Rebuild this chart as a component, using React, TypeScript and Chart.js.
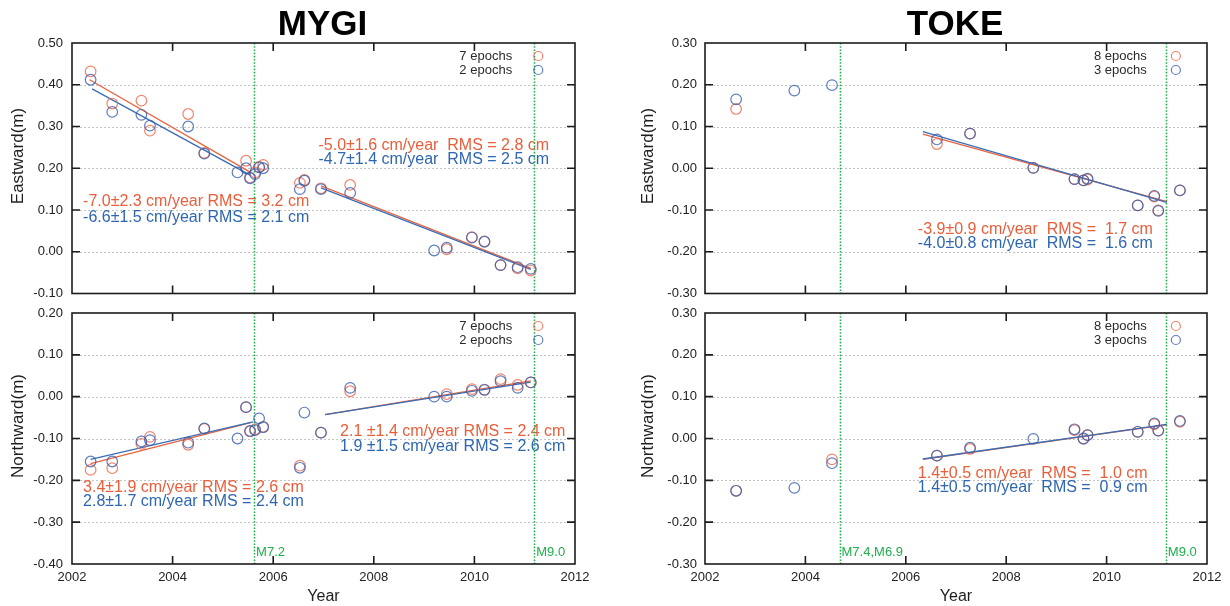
import React, { useEffect, useRef } from "react";
import { Chart, registerables } from "chart.js";

Chart.register(...registerables);

const FONT = "'Liberation Sans', Arial, Helvetica, sans-serif";

// ---------- data ----------
const xTickYears = [2002, 2004, 2006, 2008, 2010, 2012];

// MYGI eastward
const mygiEastOrangeYear = [2002.37, 2002.8, 2003.38, 2003.55, 2004.31, 2004.63, 2005.46, 2005.54, 2005.64, 2005.72, 2005.8, 2006.53, 2006.62, 2006.95, 2007.53, 2009.45, 2009.95, 2010.2, 2010.52, 2010.86, 2011.12];
const mygiEastOrange = [0.432, 0.355, 0.362, 0.29, 0.33, 0.237, 0.218, 0.178, 0.19, 0.203, 0.208, 0.165, 0.172, 0.152, 0.16, 0.006, 0.035, 0.025, -0.032, -0.04, -0.045];
const mygiBlueYear = [2002.37, 2002.8, 2003.38, 2003.55, 2004.31, 2004.63, 2005.29, 2005.46, 2005.54, 2005.64, 2005.72, 2005.8, 2006.53, 2006.62, 2006.95, 2007.53, 2009.2, 2009.45, 2009.95, 2010.2, 2010.52, 2010.86, 2011.12];
const mygiEastBlue = [0.412, 0.335, 0.328, 0.302, 0.3, 0.235, 0.19, 0.2, 0.176, 0.186, 0.202, 0.2, 0.15, 0.17, 0.15, 0.141, 0.003, 0.01, 0.034, 0.024, -0.032, -0.037, -0.041];
const mygiEastOrangeFits = [[[2002.35, 0.412], [2005.55, 0.19]], [[2006.95, 0.158], [2011.12, -0.04]]];
const mygiEastBlueFits = [[[2002.4, 0.39], [2005.55, 0.183]], [[2006.95, 0.153], [2011.12, -0.042]]];

// MYGI northward
const mygiNorthOrangeYear = [2002.37, 2002.8, 2003.38, 2003.55, 2004.31, 2004.63, 2005.46, 2005.54, 2005.64, 2005.8, 2006.53, 2006.95, 2007.53, 2009.45, 2009.95, 2010.2, 2010.52, 2010.86, 2011.12];
const mygiNorthOrange = [-0.175, -0.171, -0.113, -0.096, -0.115, -0.077, -0.025, -0.083, -0.078, -0.072, -0.165, -0.086, 0.013, 0.006, 0.018, 0.017, 0.042, 0.028, 0.034];
const mygiNorthBlue = [-0.155, -0.155, -0.107, -0.104, -0.11, -0.076, -0.1, -0.025, -0.082, -0.08, -0.052, -0.073, -0.17, -0.038, -0.086, 0.021, 0.0, 0.0, 0.014, 0.016, 0.037, 0.021, 0.034];
const mygiNorthOrangeFits = [[[2002.37, -0.16], [2005.55, -0.062]], [[2007.03, -0.043], [2011.12, 0.038]]];
const mygiNorthBlueFits = [[[2002.37, -0.15], [2005.6, -0.06]], [[2007.03, -0.043], [2011.12, 0.035]]];

// TOKE eastward
const tokeOrangeYearEast = [2002.62, 2006.62, 2007.28, 2008.54, 2009.36, 2009.54, 2009.62, 2010.62, 2010.95, 2011.03, 2011.46];
const tokeEastOrange = [0.142, 0.058, 0.083, 0.001, -0.026, -0.029, -0.027, -0.089, -0.068, -0.101, -0.053];
const tokeBlueYear = [2002.62, 2003.78, 2004.53, 2006.62, 2007.28, 2008.54, 2009.36, 2009.54, 2009.62, 2010.62, 2010.95, 2011.03, 2011.46];
const tokeEastBlue = [0.165, 0.186, 0.199, 0.069, 0.083, 0.001, -0.026, -0.029, -0.025, -0.089, -0.066, -0.102, -0.053];
const tokeEastOrangeFits = [[[2006.34, 0.082], [2011.2, -0.08]]];
const tokeEastBlueFits = [[[2006.34, 0.088], [2011.2, -0.082]]];

// TOKE northward
const tokeOrangeYearNorth = [2002.62, 2004.53, 2006.62, 2007.28, 2009.36, 2009.54, 2009.62, 2010.62, 2010.95, 2011.03, 2011.46];
const tokeNorthOrange = [-0.125, -0.05, -0.041, -0.025, 0.02, -0.001, 0.008, 0.016, 0.034, 0.019, 0.04];
const tokeNorthBlue = [-0.125, -0.118, -0.059, -0.041, -0.022, -0.001, 0.022, 0.0, 0.008, 0.016, 0.036, 0.019, 0.042];
const tokeNorthOrangeFits = [[[2006.34, -0.05], [2011.2, 0.033]]];
const tokeNorthBlueFits = [[[2006.34, -0.049], [2011.2, 0.034]]];

// earthquakes
const mygiQuakes = [2005.62, 2011.19];
const mygiQuakeLabels = ["M7.2", "M9.0"];
const tokeQuakes = [2004.68, 2011.18];
const tokeQuakeLabels = ["M7.4,M6.9", "M9.0"];

// ---------- styles ----------
const ORANGE_TXT = "#e95e3b";
const BLUE_TXT = "#2f66b0";
const ORANGE_PT = "rgba(238,110,82,0.85)";
const BLUE_PT = "rgba(52,92,172,0.8)";
const ORANGE_LINE = "#e8633f";
const BLUE_LINE = "#3a6db5";
const GREEN = "#1fae4c";

type Note = { text: string; x: number; y: number; color: string };
type PanelCfg = {
  left: number; top: number; width: number; height: number;
  padTop: number; padRight: number; padBottom: number;
  yAxisWidth: number; yTickPad: number; yTitleX: number;
  yMin: number; yMax: number; yTitle: string;
  showX: boolean; title?: string;
  orangeX: number[]; orangeY: number[]; blueX: number[]; blueY: number[];
  orangeFits: number[][][]; blueFits: number[][][];
  notes: Note[]; quakes: number[]; quakeLabels: string[] | null;
  legend: [string, string]; legendTextX: number; legendDotX: number;
};

const zip = (xs: number[], ys: number[]) => xs.map((x, i) => ({ x, y: ys[i] }));

function decorPlugin(cfg: PanelCfg) {
  return {
    id: "decor",
    beforeDatasetsDraw(chart: any) {
      const { ctx, chartArea: a, scales } = chart;
      const x = scales.x, y = scales.y;
      ctx.save();
      // dotted horizontal grid
      ctx.strokeStyle = "#c4c4c4";
      ctx.lineWidth = 1;
      ctx.setLineDash([2, 2]);
      for (const t of y.ticks) {
        const py = Math.round(y.getPixelForValue(t.value)) + 0.5;
        if (py <= a.top + 2 || py >= a.bottom - 2) continue;
        ctx.beginPath();
        ctx.moveTo(a.left, py);
        ctx.lineTo(a.right, py);
        ctx.stroke();
      }
      ctx.setLineDash([]);
      // notes
      ctx.font = `16px ${FONT}`;
      ctx.textAlign = "left";
      ctx.textBaseline = "middle";
      for (const n of cfg.notes) {
        ctx.fillStyle = n.color;
        ctx.fillText(n.text, x.getPixelForValue(n.x), y.getPixelForValue(n.y));
      }
      // quake lines
      ctx.strokeStyle = GREEN;
      ctx.lineWidth = 1.6;
      ctx.setLineDash([1.6, 1.6]);
      for (const q of cfg.quakes) {
        const px = Math.round(x.getPixelForValue(q)) + 0.5;
        ctx.beginPath();
        ctx.moveTo(px, a.top);
        ctx.lineTo(px, a.bottom);
        ctx.stroke();
      }
      ctx.restore();
    },
    afterDatasetsDraw(chart: any) {
      const { ctx, chartArea: a, scales } = chart;
      const x = scales.x, y = scales.y;
      ctx.save();
      ctx.strokeStyle = "#1c1c1c";
      ctx.lineWidth = 1.6;
      ctx.strokeRect(a.left, a.top, a.right - a.left, a.bottom - a.top);
      const TL = 8;
      ctx.beginPath();
      for (const yr of xTickYears) {
        const px = x.getPixelForValue(yr);
        if (px <= a.left + 1 || px >= a.right - 1) continue;
        ctx.moveTo(px, a.bottom); ctx.lineTo(px, a.bottom - TL);
        ctx.moveTo(px, a.top); ctx.lineTo(px, a.top + TL);
      }
      for (const t of y.ticks) {
        const py = y.getPixelForValue(t.value);
        if (py <= a.top + 1 || py >= a.bottom - 1) continue;
        ctx.moveTo(a.left, py); ctx.lineTo(a.left + TL, py);
        ctx.moveTo(a.right, py); ctx.lineTo(a.right - TL, py);
      }
      ctx.stroke();
      // legend
      ctx.font = `13px ${FONT}`;
      ctx.textAlign = "right";
      ctx.textBaseline = "middle";
      const lx = x.getPixelForValue(cfg.legendTextX);
      const dx = x.getPixelForValue(cfg.legendDotX);
      const rows = [a.top + 13, a.top + 27];
      const cols = [ORANGE_PT, BLUE_PT];
      ctx.lineWidth = 1.2;
      rows.forEach((ry, i) => {
        ctx.fillStyle = "#2a2a2a";
        ctx.fillText(cfg.legend[i], lx, ry);
        ctx.strokeStyle = cols[i];
        ctx.beginPath();
        ctx.arc(dx, ry, 4.5, 0, Math.PI * 2);
        ctx.stroke();
      });
      // quake labels
      if (cfg.quakeLabels) {
        ctx.font = `13px ${FONT}`;
        ctx.textAlign = "left";
        ctx.fillStyle = GREEN;
        cfg.quakes.forEach((q, i) => {
          ctx.fillText(cfg.quakeLabels![i], x.getPixelForValue(q) + 2, a.bottom - 12);
        });
      }
      // y title
      ctx.save();
      ctx.font = `17px ${FONT}`;
      ctx.fillStyle = "#1e1e1e";
      ctx.textAlign = "center";
      ctx.textBaseline = "middle";
      ctx.translate(cfg.yTitleX, a.top + 113);
      ctx.rotate(-Math.PI / 2);
      ctx.fillText(cfg.yTitle, 0, 0);
      ctx.restore();
      // panel title
      if (cfg.title) {
        ctx.font = `bold 35px ${FONT}`;
        ctx.fillStyle = "#000";
        ctx.textAlign = "center";
        ctx.textBaseline = "alphabetic";
        ctx.fillText(cfg.title, (a.left + a.right) / 2 - 1, 35);
      }
      ctx.restore();
    },
  };
}

function Panel({ cfg }: { cfg: PanelCfg }) {
  const ref = useRef<HTMLCanvasElement | null>(null);
  useEffect(() => {
    if (!ref.current) return;
    const datasets: any[] = [
      {
        type: "scatter", label: cfg.legend[1], data: zip(cfg.blueX, cfg.blueY),
        borderColor: BLUE_PT, backgroundColor: "rgba(0,0,0,0)", pointRadius: 5.3,
        pointHoverRadius: 5.3, borderWidth: 1.2, pointBorderWidth: 1.2, showLine: false,
      },
      {
        type: "scatter", label: cfg.legend[0], data: zip(cfg.orangeX, cfg.orangeY),
        borderColor: ORANGE_PT, backgroundColor: "rgba(0,0,0,0)", pointRadius: 5.3,
        pointHoverRadius: 5.3, borderWidth: 1.2, pointBorderWidth: 1.2, showLine: false,
      },
      ...cfg.blueFits.map((seg) => ({
        type: "line", label: "fit", data: seg.map((p) => ({ x: p[0], y: p[1] })),
        borderColor: BLUE_LINE, borderWidth: 1.3, pointRadius: 0, fill: false,
      })),
      ...cfg.orangeFits.map((seg) => ({
        type: "line", label: "fit", data: seg.map((p) => ({ x: p[0], y: p[1] })),
        borderColor: ORANGE_LINE, borderWidth: 1.3, pointRadius: 0, fill: false,
      })),
    ];
    const chart = new Chart(ref.current, {
      type: "scatter",
      data: { datasets },
      options: {
        animation: false,
        responsive: false,
        maintainAspectRatio: false,
        devicePixelRatio: 1,
        layout: { padding: { top: cfg.padTop, right: cfg.padRight, bottom: cfg.padBottom, left: 0 } },
        plugins: { legend: { display: false }, tooltip: { enabled: false }, title: { display: false } },
        scales: {
          x: {
            type: "linear", min: 2002, max: 2012, display: cfg.showX,
            grid: { display: false, drawTicks: false },
            border: { display: false },
            ticks: {
              stepSize: 2, padding: 6, color: "#222",
              font: { family: FONT, size: 13 },
              callback: (v: any) => String(v),
            },
            title: { display: cfg.showX, text: "Year", color: "#1e1e1e", font: { family: FONT, size: 16 }, padding: { top: 0, bottom: 0 } },
            afterFit: (s: any) => { s.height = cfg.showX ? 42 : 0; },
          },
          y: {
            type: "linear", min: cfg.yMin, max: cfg.yMax,
            grid: { display: false, drawTicks: false },
            border: { display: false },
            ticks: {
              stepSize: 0.1, padding: cfg.yTickPad, color: "#222",
              font: { family: FONT, size: 13 },
              callback: (v: any) => (Math.abs(v) < 1e-9 ? 0 : Number(v)).toFixed(2),
            },
            afterFit: (s: any) => {
              s.width = cfg.yAxisWidth;
              s.paddingTop = 0;
              s.paddingBottom = 0;
            },
          },
        },
      } as any,
      plugins: [decorPlugin(cfg)],
    });
    return () => chart.destroy();
  }, [cfg]);
  return (
    <canvas
      ref={ref}
      width={cfg.width}
      height={cfg.height}
      style={{ position: "absolute", left: cfg.left, top: cfg.top, width: cfg.width, height: cfg.height }}
    />
  );
}

const panels: PanelCfg[] = [
  {
    left: 0, top: 0, width: 610, height: 300, padTop: 43, padRight: 35, padBottom: 6,
    yAxisWidth: 72, yTickPad: 9, yTitleX: 18, yMin: -0.1, yMax: 0.5, yTitle: "Eastward(m)",
    showX: false, title: "MYGI",
    orangeX: mygiEastOrangeYear, orangeY: mygiEastOrange, blueX: mygiBlueYear, blueY: mygiEastBlue,
    orangeFits: mygiEastOrangeFits, blueFits: mygiEastBlueFits,
    notes: [
      { text: "-7.0±2.3 cm/year RMS = 3.2 cm", x: 2002.22, y: 0.119, color: ORANGE_TXT },
      { text: "-6.6±1.5 cm/year RMS = 2.1 cm", x: 2002.22, y: 0.083, color: BLUE_TXT },
      { text: "-5.0±1.6 cm/year  RMS = 2.8 cm", x: 2006.9, y: 0.255, color: ORANGE_TXT },
      { text: "-4.7±1.4 cm/year  RMS = 2.5 cm", x: 2006.9, y: 0.221, color: BLUE_TXT },
    ],
    quakes: mygiQuakes, quakeLabels: null,
    legend: ["7 epochs", "2 epochs"], legendTextX: 2010.75, legendDotX: 2011.27,
  },
  {
    left: 0, top: 300, width: 610, height: 306, padTop: 13, padRight: 35, padBottom: 0,
    yAxisWidth: 72, yTickPad: 9, yTitleX: 18, yMin: -0.4, yMax: 0.2, yTitle: "Northward(m)",
    showX: true,
    orangeX: mygiNorthOrangeYear, orangeY: mygiNorthOrange, blueX: mygiBlueYear, blueY: mygiNorthBlue,
    orangeFits: mygiNorthOrangeFits, blueFits: mygiNorthBlueFits,
    notes: [
      { text: "3.4±1.9 cm/year RMS = 2.6 cm", x: 2002.22, y: -0.218, color: ORANGE_TXT },
      { text: "2.8±1.7 cm/year RMS = 2.4 cm", x: 2002.22, y: -0.252, color: BLUE_TXT },
      { text: "2.1 ±1.4 cm/year RMS = 2.4 cm", x: 2007.33, y: -0.084, color: ORANGE_TXT },
      { text: "1.9 ±1.5 cm/year RMS = 2.6 cm", x: 2007.33, y: -0.12, color: BLUE_TXT },
    ],
    quakes: mygiQuakes, quakeLabels: mygiQuakeLabels,
    legend: ["7 epochs", "2 epochs"], legendTextX: 2010.75, legendDotX: 2011.27,
  },
  {
    left: 620, top: 0, width: 610, height: 300, padTop: 43, padRight: 23, padBottom: 6,
    yAxisWidth: 85, yTickPad: 8, yTitleX: 28, yMin: -0.3, yMax: 0.3, yTitle: "Eastward(m)",
    showX: false, title: "TOKE",
    orangeX: tokeOrangeYearEast, orangeY: tokeEastOrange, blueX: tokeBlueYear, blueY: tokeEastBlue,
    orangeFits: tokeEastOrangeFits, blueFits: tokeEastBlueFits,
    notes: [
      { text: "-3.9±0.9 cm/year  RMS =  1.7 cm", x: 2006.24, y: -0.146, color: ORANGE_TXT },
      { text: "-4.0±0.8 cm/year  RMS =  1.6 cm", x: 2006.24, y: -0.18, color: BLUE_TXT },
    ],
    quakes: tokeQuakes, quakeLabels: null,
    legend: ["8 epochs", "3 epochs"], legendTextX: 2010.8, legendDotX: 2011.38,
  },
  {
    left: 620, top: 300, width: 610, height: 306, padTop: 13, padRight: 23, padBottom: 0,
    yAxisWidth: 85, yTickPad: 8, yTitleX: 28, yMin: -0.3, yMax: 0.3, yTitle: "Northward(m)",
    showX: true,
    orangeX: tokeOrangeYearNorth, orangeY: tokeNorthOrange, blueX: tokeBlueYear, blueY: tokeNorthBlue,
    orangeFits: tokeNorthOrangeFits, blueFits: tokeNorthBlueFits,
    notes: [
      { text: "1.4±0.5 cm/year  RMS =  1.0 cm", x: 2006.24, y: -0.085, color: ORANGE_TXT },
      { text: "1.4±0.5 cm/year  RMS =  0.9 cm", x: 2006.24, y: -0.118, color: BLUE_TXT },
    ],
    quakes: tokeQuakes, quakeLabels: tokeQuakeLabels,
    legend: ["8 epochs", "3 epochs"], legendTextX: 2010.8, legendDotX: 2011.38,
  },
];

export default function App() {
  return (
    <div style={{ position: "absolute", left: 0, top: 0, width: 1230, height: 606, overflow: "hidden", background: "#fff" }}>
      {panels.map((p, i) => (
        <Panel key={i} cfg={p} />
      ))}
    </div>
  );
}
